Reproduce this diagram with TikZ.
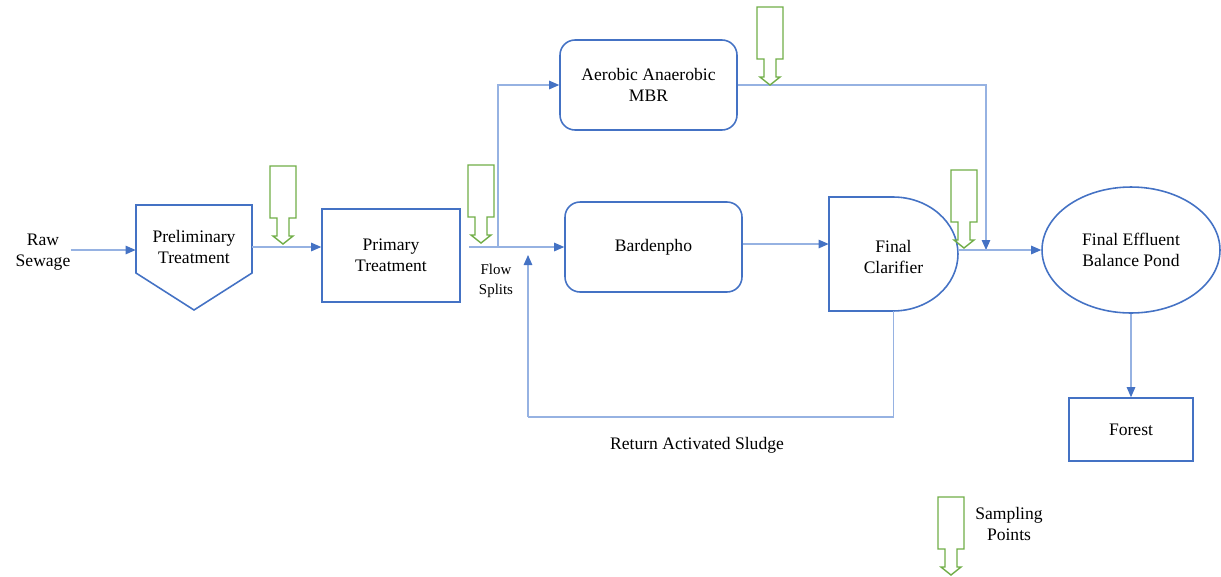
\documentclass[tikz,border=0pt]{standalone}
\usepackage{fontspec}
\setmainfont{Liberation Serif}
\usetikzlibrary{arrows.meta,shapes.geometric}
\definecolor{boxblue}{RGB}{68,114,196}
\definecolor{linkblue}{RGB}{150,178,226}
\definecolor{sampgreen}{RGB}{112,173,71}
\tikzset{
  unit/.style={draw=boxblue,line width=0.9pt,align=center,inner sep=0pt},
  hidden/.style={align=center,inner sep=0pt},
  conn/.style={draw=linkblue,line width=0.6pt,-{Triangle[length=2mm,width=1.7mm,color=boxblue]}},
  plain/.style={draw=linkblue,line width=0.6pt},
  samplept/.pic={\draw[sampgreen,line width=0.8pt] (-13,-78) -- (13,-78) -- (13,-26) -- (6,-26) -- (6,-8) -- (10,-8)
    -- (0,0) -- (-10,-8) -- (-6,-8) -- (-6,-26) -- (-13,-26) -- cycle;}
}
\begin{document}
\begin{tikzpicture}[x=0.02cm,y=-0.02cm]%sewage plant sampling
\useasboundingbox (0,0) rectangle (1221,576);
\node[hidden] (raw) at (43,252) {Raw\\Sewage};
\node[hidden,minimum width=2.32cm,minimum height=1.68cm] (prelim) at (194,247) {Preliminary\\Treatment};
\draw[boxblue,line width=0.9pt] (136,205) -- (252,205) -- (252,273) -- (194,310) -- (136,273) -- cycle;
\node[unit,minimum width=2.76cm,minimum height=1.86cm] (primary) at (391,255.5) {Primary\\Treatment};
\node[unit,rounded corners=0.3cm,minimum width=3.54cm,minimum height=1.8cm] (mbr) at (648.5,85) {Aerobic Anaerobic\\MBR};
\node[unit,rounded corners=0.3cm,minimum width=3.54cm,minimum height=1.8cm] (bard) at (653.5,247) {Bardenpho};
\node[hidden,minimum width=2.58cm,minimum height=2.28cm] (clar) at (893.5,254) {\\[-2pt]Final\\Clarifier};
\draw[boxblue,line width=0.9pt] (829,197) -- (893,197) arc[start angle=90,end angle=-90,x radius=1.3cm,y radius=1.14cm]
  -- (829,311) -- cycle;
\node[unit,ellipse,minimum width=3.56cm,minimum height=2.52cm] (pond) at (1131,250) {Final Effluent\\Balance Pond};
\node[unit,minimum width=2.48cm,minimum height=1.26cm] (forest) at (1131,429.5) {Forest};
\node[hidden,font=\fontsize{8.5}{11}\selectfont] (flowtxt) at (496,281) {Flow\\Splits};
\node[hidden] (rastxt) at (697,445) {Return Activated Sludge};
\node[hidden] (samptxt) at (1009,524) {Sampling\\Points};
\coordinate (splitin) at (469,247);
\coordinate (split) at (498,247);
\coordinate (join) at (986,250);
\coordinate (rasbot) at (528,417);
\coordinate (ret) at (528,255);
% flows
\draw[conn] (raw.east |- 0,250) -- (prelim.west |- 0,250);
\draw[conn] (prelim.east) -- (prelim.east -| primary.west);
\draw[conn] (splitin) -- (bard.west);
\draw[conn] (split) |- (mbr.west);
\draw[conn] (mbr.east) -| (join);
\draw[conn] (bard.east |- 0,244) -- (clar.west |- 0,244);
\draw[conn] (clar.east |- pond.west) -- (pond.west);
\draw[conn] (pond.south) -- (forest.north);
\draw[plain] (clar.south) |- (rasbot);
\draw[conn] (rasbot) -- (ret);
% sampling points
\pic at (283,244) {samplept};
\pic at (481,243) {samplept};
\pic at (770,85) {samplept};
\pic at (964,248) {samplept};
\pic at (951,575) {samplept};
\end{tikzpicture}
\end{document}
